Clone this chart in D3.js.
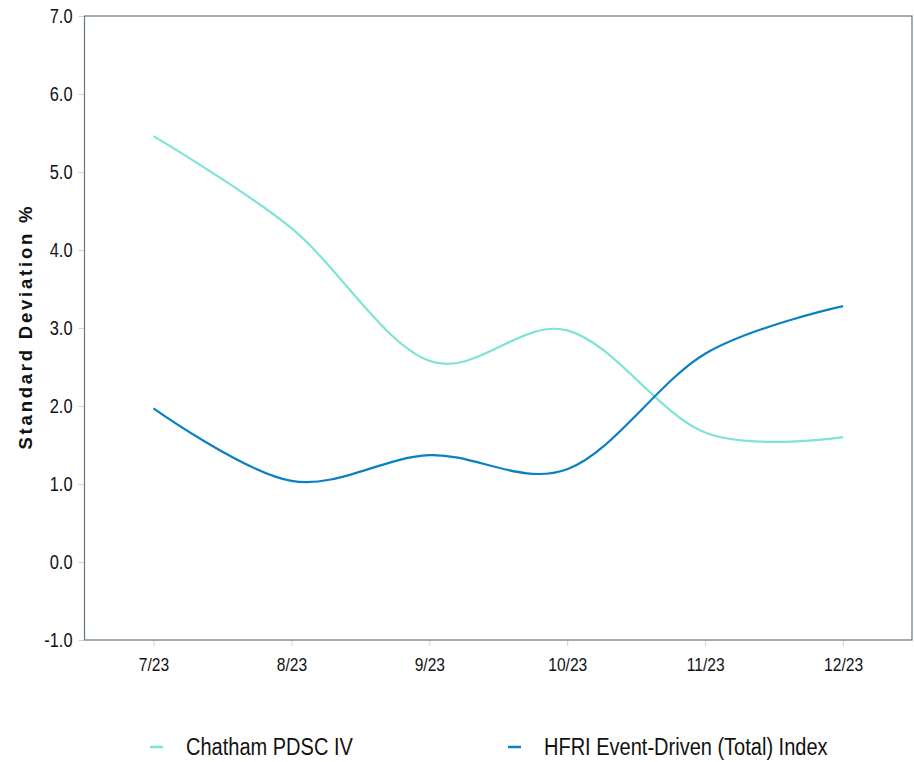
<!DOCTYPE html>
<html>
<head>
<meta charset="utf-8">
<script src="https://cdn.jsdelivr.net/npm/d3@7"></script>
<style>
  body { margin: 0; background: #fff; }
  svg text { font-family: "Liberation Sans", Arial, sans-serif; fill: #111; }
</style>
</head>
<body>
<svg id="chart"></svg>
<script>
// months on the x axis
const months = ["7/23", "8/23", "9/23", "10/23", "11/23", "12/23"];
// standard deviation %
const chatham = [5.46, 4.28, 2.58, 2.97, 1.66, 1.60];
const hfri = [1.97, 1.04, 1.37, 1.19, 2.67, 3.28];
const seriesNames = ["Chatham PDSC IV", "HFRI Event-Driven (Total) Index"];
const yTicks = [-1, 0, 1, 2, 3, 4, 5, 6, 7];

const colors = ["#7fe3d6", "#0a80c2"];

const config = {
    width: 914,
    height: 762,
    margin: {top: 16, right: 2, bottom: 122, left: 84.5}
};

// squeeze text horizontally, the original uses a condensed face
function narrow(sel, factor) {
    sel.each(function() {
        const w = this.getComputedTextLength();
        d3.select(this)
            .attr("textLength", w * factor)
            .attr("lengthAdjust", "spacingAndGlyphs");
    });
}

const svg = d3.select("#chart")
    .attr("width", config.width)
    .attr("height", config.height);

const innerW = config.width - config.margin.left - config.margin.right;
const innerH = config.height - config.margin.top - config.margin.bottom;

const chart = svg.append("g")
    .attr("transform", `translate(${config.margin.left},${config.margin.top})`);

const x = d3.scalePoint()
    .domain(months)
    .range([0, innerW])
    .padding(0.5);

const y = d3.scaleLinear()
    .domain([-1, 7])
    .range([innerH, 0]);

// y axis ticks + labels
const yAxis = chart.append("g")
    .call(d3.axisLeft(y).tickValues(yTicks).tickFormat(d => d.toFixed(1)).tickSize(6).tickPadding(6));
yAxis.select(".domain").remove();
yAxis.selectAll(".tick line").attr("stroke", "#d2d2d2");
yAxis.selectAll(".tick text").style("font-size", "20px").attr("dy", "0.34em").call(narrow, 0.82);

// x axis ticks + labels
const xAxis = chart.append("g")
    .attr("transform", `translate(0,${innerH})`)
    .call(d3.axisBottom(x).tickSize(6).tickPadding(12));
xAxis.select(".domain").remove();
xAxis.selectAll(".tick line").attr("stroke", "#d2d2d2");
xAxis.selectAll(".tick text").style("font-size", "19px").call(narrow, 0.82);

// plot frame
chart.append("rect")
    .attr("x", 0).attr("y", 0)
    .attr("width", innerW).attr("height", innerH)
    .attr("fill", "none")
    .attr("stroke", "#607585")
    .attr("stroke-width", 1.2);

// y axis title
svg.append("text")
    .attr("transform", `translate(32,328) rotate(-90)`)
    .attr("text-anchor", "middle")
    .style("font-weight", "bold")
    .style("font-size", "18.5px")
    .attr("textLength", 243)
    .attr("lengthAdjust", "spacing")
    .text("Standard Deviation %");

const line = d3.line()
    .x((d, i) => x(months[i]))
    .y(d => y(d))
    .curve(d3.curveCatmullRom.alpha(0));

[chatham, hfri].forEach((s, k) => {
    chart.append("path")
        .datum(s)
        .attr("fill", "none")
        .attr("stroke", colors[k])
        .attr("stroke-width", 2.2)
        .attr("d", line);
});

// legend
const legendX = [150, 508];
const legend = svg.append("g");
seriesNames.forEach((name, k) => {
    const g = legend.append("g").attr("transform", `translate(${legendX[k]},747)`);
    g.append("line")
        .attr("x1", 0).attr("x2", 13)
        .attr("stroke", colors[k])
        .attr("stroke-width", 2.5);
    g.append("text")
        .attr("x", 36)
        .attr("dy", "0.36em")
        .style("font-size", "23px")
        .text(name)
        .call(narrow, 0.87);
});
</script>
</body>
</html>
